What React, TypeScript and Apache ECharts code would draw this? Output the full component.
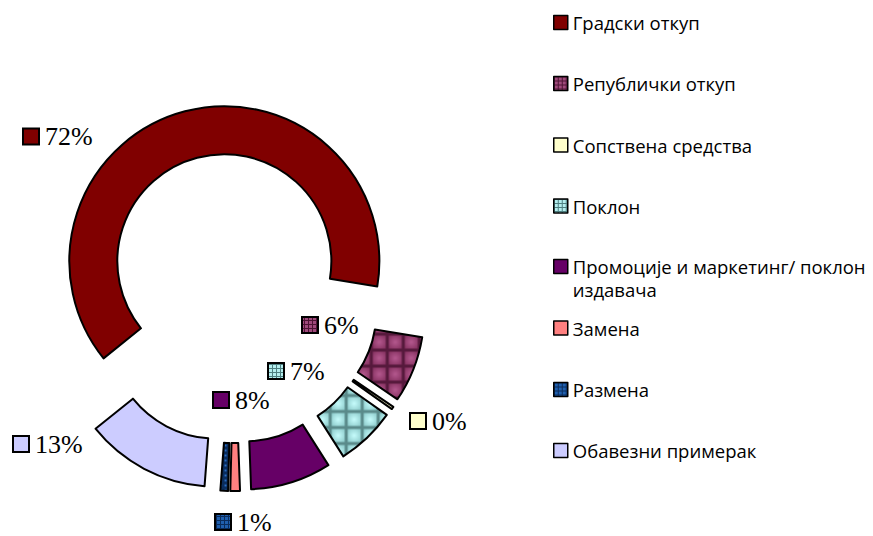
import React, { useEffect, useRef } from "react";
import * as echarts from "echarts";

// Categories (legend order = slice order, clockwise)
const categories = [
  "Градски откуп",
  "Републички откуп",
  "Сопствена средства",
  "Поклон",
  "Промоције и маркетинг/ поклон издавача",
  "Замена",
  "Размена",
  "Обавезни примерак",
];
// Slice shares (percent of the ring)
const shares = [63.3, 6.9, 0, 6.2, 8.4, 1.0, 0.8, 13.0];
// Data labels as printed next to the ring
const labelTexts = ["72%", "6%", "0%", "7%", "8%", "", "1%", "13%"];

// Styling (not data)
const plainColors = ["#800000", "#8a2c60", "#FFFFCC", "#9fdede", "#660066", "#FF8080", "#1f5fae", "#CCCCFF"];
const labelAnchors: Array<[number, number]> = [
  [22, 136.5], [301, 325], [409, 421], [267, 371], [212, 400], [0, 0], [214, 522], [12, 444],
];
const legendCenters = [22, 83, 144.5, 205.5, 266.5, 327.5, 389, 450];

function makeTile(size: number, grid: string, edge: string, center: string) {
  const c = document.createElement("canvas");
  c.width = size;
  c.height = size;
  const g = c.getContext("2d")!;
  g.fillStyle = grid;
  g.fillRect(0, 0, size, size);
  const grad = g.createRadialGradient(size / 2, size / 2, 0, size / 2, size / 2, size * 0.55);
  grad.addColorStop(0, center);
  grad.addColorStop(1, edge);
  g.fillStyle = grad;
  g.fillRect(1.5, 1.5, size - 3, size - 3);
  return c.toDataURL();
}

function makeKey(grid: string, cell: string) {
  const c = document.createElement("canvas");
  c.width = 16;
  c.height = 16;
  const g = c.getContext("2d")!;
  g.fillStyle = grid;
  g.fillRect(0, 0, 16, 16);
  g.fillStyle = cell;
  for (let i = 0; i < 4; i++) for (let j = 0; j < 4; j++) g.fillRect(i * 4 + 1, j * 4 + 1, 3, 3);
  return c.toDataURL();
}

export default function App() {
  const ref = useRef<HTMLDivElement>(null);
  useEffect(() => {
    if (!ref.current) return;
    const patterns: Record<number, { tile: string; key: string; size: number }> = {
      1: { tile: makeTile(16, "#56193c", "#84305f", "#b4588e"), key: makeKey("#4e1434", "#a04a7c"), size: 16 },
      3: { tile: makeTile(16, "#5a8a8a", "#8ccaca", "#c6fcfc"), key: makeKey("#4d7f80", "#b4eeee"), size: 16 },
      6: { tile: makeTile(5, "#0a2c5c", "#1f5fae", "#2a70c8"), key: makeKey("#0a2c5c", "#1f5fae"), size: 5 },
    };
    const sliceFill = (i: number): any =>
      patterns[i]
        ? { image: patterns[i].tile, repeat: "repeat", imageWidth: patterns[i].size, imageHeight: patterns[i].size }
        : plainColors[i];
    const keyFill = (i: number): any =>
      patterns[i] ? { image: patterns[i].key, repeat: "repeat", imageWidth: 16, imageHeight: 16 } : plainColors[i];

    // Data labels (legend key box + text), placed where the source chart put them
    const labelGraphics: any[] = [];
    labelTexts.forEach((t, i) => {
      if (!t) return;
      const [lx, cy] = labelAnchors[i];
      labelGraphics.push({
        type: "rect",
        shape: { x: lx + 1, y: cy - 8, width: 16, height: 16 },
        style: { fill: keyFill(i), stroke: "#000", lineWidth: 2 },
        silent: true,
      });
      labelGraphics.push({
        type: "text",
        x: lx + 23,
        y: cy,
        style: {
          text: t,
          font: "26px 'Liberation Serif'",
          fill: "#000",
          verticalAlign: "middle",
          align: "left",
        },
        silent: true,
      });
    });

    const chart = echarts.init(ref.current, null, { renderer: "svg" });
    chart.setOption({
      animation: false,
      backgroundColor: "#ffffff",
      legend: categories.map((name, i) => ({
        orient: "vertical",
        left: 553,
        top: legendCenters[i] - (i === 4 ? 34.5 : 9),
        padding: 0,
        icon: "rect",
        itemWidth: 14,
        itemHeight: 14,
        itemGap: 0,
        selectedMode: false,
        formatter: (n: string) =>
          n.indexOf(" издавача") >= 0 ? "\n" + n.replace(" издавача", "\nиздавача") : n,
        textStyle: {
          fontFamily: "Open Sans",
          fontSize: 18.5,
          color: "#000",
          ...(i === 4 ? { lineHeight: 23 } : {}),
        },
        itemStyle: { borderColor: "#000", borderWidth: 1.5 },
        data: [{ name, itemStyle: { color: keyFill(i), borderColor: "#000", borderWidth: 1.5 } }],
      })),
      graphic: labelGraphics,
      series: [
        {
          type: "pie",
          center: [234, 298],
          radius: [107, 155],
          startAngle: -141.2,
          clockwise: true,
          minAngle: 1,
          selectedMode: "multiple",
          selectedOffset: 38,
          avoidLabelOverlap: false,
          emphasis: { disabled: true },
          itemStyle: { borderColor: "#000", borderWidth: 2 },
          select: { itemStyle: { borderColor: "#000", borderWidth: 2 } },
          labelLine: { show: false },
          label: { show: false },
          data: categories.map((name, i) => ({
            name,
            value: shares[i],
            selected: true,
            itemStyle: { color: sliceFill(i) },
          })),
        },
      ],
    });
    return () => chart.dispose();
  }, []);
  return (
    <div
      ref={ref}
      style={{ position: "absolute", left: 0, top: 0, width: 873, height: 536, background: "#fff" }}
    />
  );
}
